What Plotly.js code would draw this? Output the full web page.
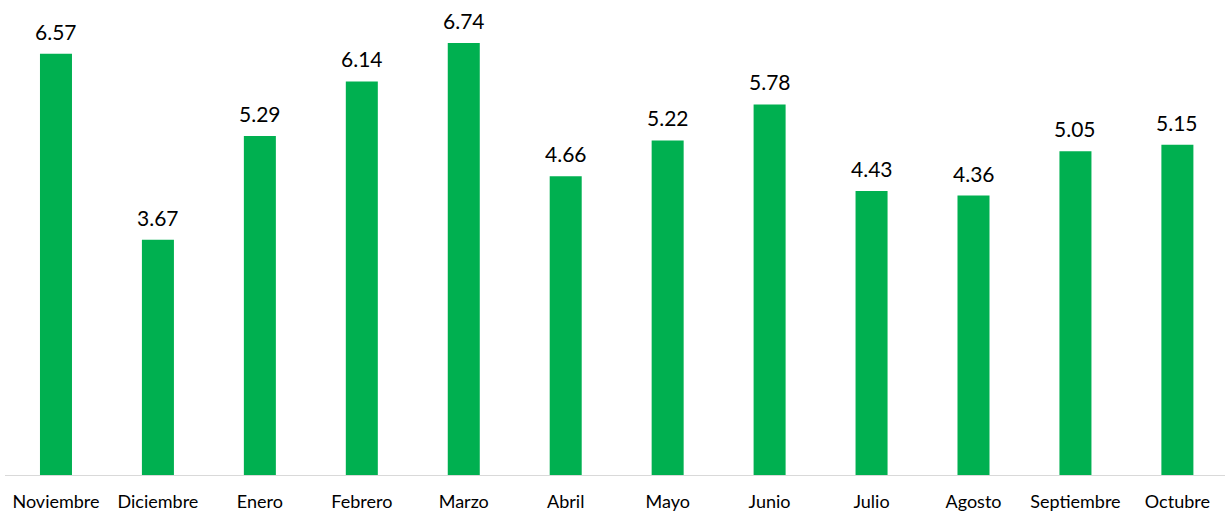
<!DOCTYPE html>
<html><head><meta charset="utf-8">
<script src="https://cdn.plot.ly/plotly-3.0.1.min.js"></script>
<style>html,body{margin:0;padding:0;background:#fff}#chart{width:1225px;height:511px}</style>
</head><body><div id="chart"></div>
<script>
const months = ["Noviembre","Diciembre","Enero","Febrero","Marzo","Abril","Mayo","Junio","Julio","Agosto","Septiembre","Octubre"];
const values = [6.57,3.67,5.29,6.14,6.74,4.66,5.22,5.78,4.43,4.36,5.05,5.15];
const labels = values.map(v => v.toFixed(2));

const annotations = months.map((m, i) => ({
  x: m, y: values[i], xref: 'x', yref: 'y', text: labels[i], showarrow: false,
  yanchor: 'bottom', yshift: 8, font: {family: 'Lato, sans-serif', size: 21, color: '#000'}
}));

Plotly.newPlot('chart', [{
  type: 'bar', x: months, y: values,
  marker: {color: '#00B050'}, width: 0.314, hoverinfo: 'none'
}], {
  width: 1225, height: 511,
  margin: {l: 5, r: 0, t: 0, b: 36},
  paper_bgcolor: '#fff', plot_bgcolor: '#fff',
  showlegend: false,
  annotations: annotations,
  xaxis: {type: 'category', range: [-0.5, 11.467], showline: true, linecolor: '#d9d9d9', linewidth: 1,
    showgrid: false, ticks: '', tickfont: {family: 'Lato, sans-serif', size: 18, color: '#000'}, ticklabelstandoff: 10},
  yaxis: {range: [0, 7.41], visible: false, showgrid: false, zeroline: false},
}, {displayModeBar: false, staticPlot: true});
</script></body></html>
